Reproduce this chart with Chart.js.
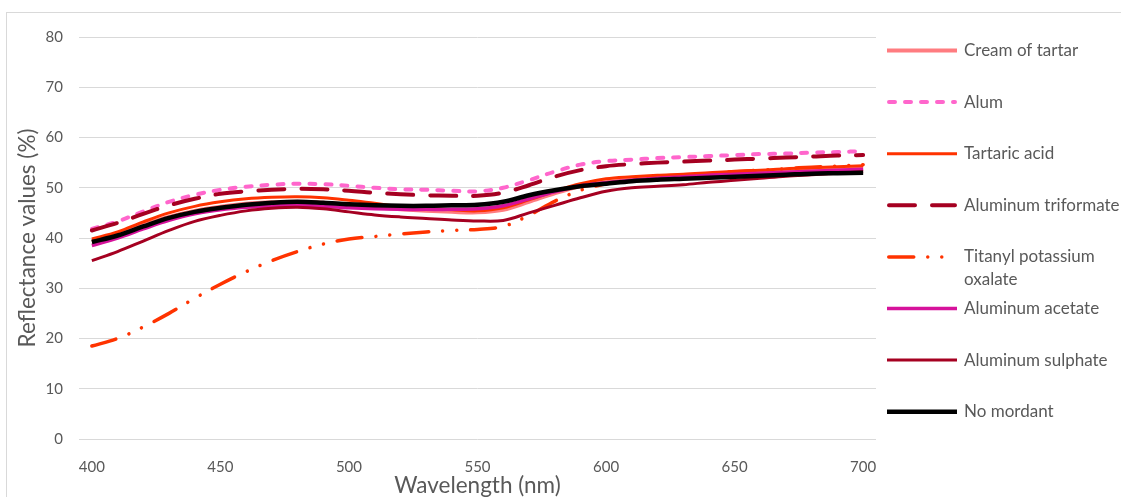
<!DOCTYPE html>
<html>
<head>
<meta charset="utf-8">
<script src="https://cdn.jsdelivr.net/npm/chart.js@4.4.1/dist/chart.umd.min.js"></script>
<style>
  html, body { margin: 0; padding: 0; background: #fff; overflow: hidden; }
  #wrap { position: relative; width: 1121px; height: 497px; }
  #frame { position: absolute; left: 6px; top: 12px; width: 1300px; height: 700px;
           border: 1px solid #d9d9d9; box-sizing: border-box; }
  canvas { position: absolute; left: 0; top: 0; }
</style>
</head>
<body>
<div id="wrap">
  <div id="frame"></div>
  <canvas id="chart" width="1121" height="497"></canvas>
</div>
<script>
// Wavelengths (nm)
const wavelengths = [400,410,420,430,440,450,460,470,480,490,500,510,520,530,540,550,
                     560,570,580,590,600,610,620,630,640,650,660,670,680,690,700];

// Reflectance (%) per mordant
const creamOfTartar = [39.3,40.8,42.6,44.2,45.4,46.2,46.8,47.1,47.2,47.0,46.6,46.1,45.7,45.4,45.2,45.1,
                       45.6,47.2,48.9,50.3,51.1,51.6,52.0,52.3,52.6,52.8,53.0,53.2,53.4,53.6,53.8];
const alum = [41.8,43.3,45.3,47.2,48.6,49.6,50.2,50.6,50.8,50.7,50.4,50.0,49.7,49.6,49.4,49.3,
              50.0,51.5,53.2,54.6,55.3,55.6,55.9,56.1,56.3,56.5,56.7,56.8,57.0,57.1,57.3];
const tartaricAcid = [39.8,41.2,43.2,45.0,46.3,47.2,47.8,48.1,48.2,48.0,47.5,46.9,46.3,45.9,45.6,45.4,
                      46.0,47.6,49.3,50.8,51.8,52.2,52.5,52.7,53.0,53.3,53.5,53.8,54.0,54.2,54.4];
const aluminumTriformate = [41.5,43.0,44.8,46.5,47.8,48.8,49.3,49.6,49.8,49.7,49.4,49.0,48.7,48.5,48.4,48.4,
                            49.0,50.5,52.2,53.5,54.3,54.7,55.0,55.2,55.4,55.6,55.8,56.0,56.2,56.4,56.5];
const titanylPotassiumOxalate = [18.5,20.0,22.3,25.0,28.0,30.8,33.3,35.5,37.3,38.8,39.8,40.3,40.8,41.2,41.5,41.7,
                                 42.3,44.5,47.3,49.5,50.8,51.5,52.0,52.4,52.8,53.2,53.5,53.8,54.1,54.3,54.6];
const aluminumAcetate = [38.5,40.0,41.8,43.5,44.8,45.6,46.1,46.4,46.5,46.3,46.0,45.8,45.7,45.7,45.7,45.8,
                         46.4,47.8,49.2,50.4,51.0,51.5,51.9,52.2,52.5,52.7,52.9,53.1,53.3,53.5,53.7];
const aluminumSulphate = [35.5,37.3,39.4,41.5,43.3,44.5,45.4,45.9,46.1,45.8,45.2,44.6,44.2,43.9,43.6,43.4,
                          43.5,45.0,46.5,48.0,49.3,50.0,50.3,50.6,51.1,51.5,51.9,52.3,52.6,52.9,53.2];
const noMordant = [39.2,40.5,42.3,44.0,45.2,46.0,46.6,47.0,47.2,47.0,46.7,46.5,46.4,46.4,46.5,46.6,
                   47.2,48.5,49.5,50.3,50.8,51.3,51.6,51.8,52.0,52.2,52.4,52.6,52.8,52.9,53.0];

// Y axis range and step
const yTicks = { min: 0, max: 80, step: 10 };

const FONT = 'Lato, "Open Sans", "Liberation Sans", sans-serif';
const TEXT = '#595959';

function series(label, data, color, width, dash, cap) {
  return {
    label, data,
    borderColor: color, backgroundColor: color,
    borderWidth: width, borderDash: dash || [],
    borderCapStyle: cap || 'butt', borderJoinStyle: 'round',
    pointRadius: 0, pointHoverRadius: 0,
    tension: 0.35, fill: false
  };
}

const datasets = [
  series('Cream of tartar', creamOfTartar, '#FF7C80', 4),
  series('Alum', alum, '#FF66CC', 4, [6, 10], 'round'),
  series('Tartaric acid', tartaricAcid, '#FF3300', 3),
  series('Aluminum triformate', aluminumTriformate, '#A50021', 4, [26, 17], 'round'),
  series('Titanyl potassium oxalate', titanylPotassiumOxalate, '#FF3300', 3.5, [25, 14, 0.01, 14, 0.01, 14], 'round'),
  series('Aluminum acetate', aluminumAcetate, '#D6129B', 3.5),
  series('Aluminum sulphate', aluminumSulphate, '#A50021', 3),
  series('No mordant', noMordant, '#000000', 4.5)
];
// later series are painted over earlier ones
datasets.forEach((d, i) => { d.order = datasets.length - 1 - i; });

// Legend drawn at the right of the plot, one evenly spaced row per series
const sideLegend = {
  id: 'sideLegend',
  afterDraw(chart, args, opts) {
    const ctx = chart.ctx;
    ctx.save();
    ctx.font = opts.fontSize + 'px ' + FONT;
    ctx.textBaseline = 'middle';
    ctx.textAlign = 'left';
    chart.data.datasets.forEach((ds, i) => {
      const y = opts.top + i * opts.rowGap;
      // wrap text into lines
      const words = ds.label.split(' ');
      const lines = [];
      let cur = '';
      words.forEach(w => {
        const t = cur ? cur + ' ' + w : w;
        if (cur && ctx.measureText(t).width > opts.wrapWidth) { lines.push(cur); cur = w; }
        else cur = t;
      });
      lines.push(cur);
      // sample line
      ctx.save();
      ctx.strokeStyle = ds.borderColor;
      ctx.lineWidth = ds.borderWidth;
      ctx.lineCap = ds.borderCapStyle;
      ctx.setLineDash(ds.borderDash);
      ctx.beginPath();
      const inset = ds.borderCapStyle === 'round' ? ds.borderWidth / 2 : 0;
      ctx.moveTo(opts.left + inset, y);
      ctx.lineTo(opts.left + opts.sampleWidth - inset, y);
      ctx.stroke();
      ctx.restore();
      ctx.fillStyle = TEXT;
      lines.forEach((ln, k) => ctx.fillText(ln, opts.left + opts.sampleWidth + 7, y + k * opts.lineHeight));
    });
    ctx.restore();
  }
};

new Chart(document.getElementById('chart'), {
  type: 'line',
  data: { labels: wavelengths, datasets },
  plugins: [sideLegend],
  options: {
    responsive: false,
    animation: false,
    events: [],
    layout: { padding: { left: 0, top: 37, right: 245, bottom: 0 } },
    plugins: {
      legend: { display: false },
      tooltip: { enabled: false },
      sideLegend: { left: 887, top: 50.5, rowGap: 51.6, sampleWidth: 70, fontSize: 17,
                    lineHeight: 23, wrapWidth: 165 }
    },
    scales: {
      x: {
        type: 'category',
        offset: true,
        grid: { display: false, drawTicks: false },
        border: { display: false },
        ticks: {
          autoSkip: false, maxRotation: 0, padding: 19,
          color: TEXT, font: { family: FONT, size: 15 },
          callback(v) { const w = this.getLabelForValue(v); return w % 50 === 0 ? String(w) : ''; }
        },
        title: { display: true, text: 'Wavelength (nm)', color: TEXT,
                 font: { family: FONT, size: 22.5, lineHeight: 1 }, padding: { top: 0, bottom: 0 } },
        afterFit(s) { s.height = 58; }
      },
      y: {
        min: yTicks.min, max: yTicks.max,
        grid: { color: '#d9d9d9', lineWidth: 1, drawTicks: false },
        border: { display: false },
        ticks: { stepSize: yTicks.step, padding: 16, color: TEXT, font: { family: FONT, size: 15 } },
        title: { display: true, text: 'Reflectance values (%)', color: TEXT,
                 font: { family: FONT, size: 22.5, lineHeight: 1 }, padding: { top: 16, bottom: 0 } },
        afterFit(s) { s.width = 79; }
      }
    }
  }
});
</script>
</body>
</html>
